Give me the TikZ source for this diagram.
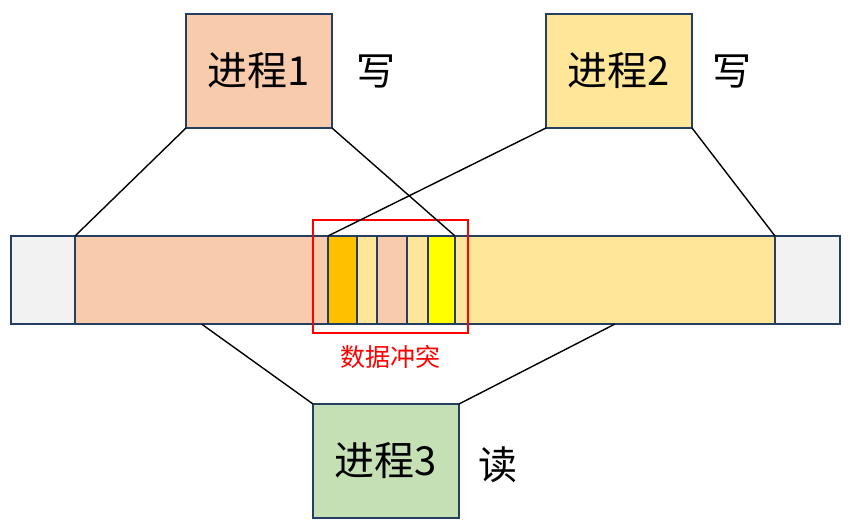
\documentclass[tikz,border=0pt]{standalone}
\usepackage{fontspec}
\setmainfont{Noto Sans CJK SC}
\begin{document}
\begin{tikzpicture}[x=1pt,y=-1pt,
  seg/.style={draw=edgeblue, line width=1.4pt, inner sep=0pt, outer sep=0pt, minimum height=88pt},
  proc/.style={draw=edgeblue, line width=1.2pt, inner sep=0pt, outer sep=0pt, minimum width=146pt, minimum height=114pt, font=\fontsize{40}{44}\selectfont},
  lbl/.style={font=\fontsize{39}{42}\selectfont, inner sep=0pt},
  conn/.style={draw=black, line width=1.4pt}]
\definecolor{edgeblue}{HTML}{243F60}
\definecolor{peach}{HTML}{F8CBAD}
\definecolor{lyel}{HTML}{FFE699}
\definecolor{lgray}{HTML}{F2F2F2}
\definecolor{orng}{HTML}{FFC000}
\definecolor{yel}{HTML}{FFFF00}
\definecolor{lgreen}{HTML}{C5E0B4}
\useasboundingbox (0,0) rectangle (850,529);
\fill[white] (0,0) rectangle (850,529);
% bar segments
\node[seg, fill=lgray, minimum width=64pt] (gl) at (43,280) {};
\node[seg, fill=lgray, minimum width=65pt] (gr) at (807.5,280) {};
\node[seg, fill=peach, minimum width=253pt] (pl) at (201.5,280) {};
\node[seg, fill=lyel, minimum width=320pt] (yr) at (615,280) {};
\node[seg, fill=orng, minimum width=29pt] (o1) at (342.5,280) {};
\node[seg, fill=lyel, minimum width=20pt] (y1) at (367,280) {};
\node[seg, fill=peach, minimum width=30pt] (p1) at (392,280) {};
\node[seg, fill=lyel, minimum width=21pt] (y2) at (417.5,280) {};
\node[seg, fill=yel, minimum width=27pt] (y3) at (441.5,280) {};
% conflict frame
\node[draw=red, line width=1.2pt, inner sep=0pt, minimum width=155pt, minimum height=113pt] (cf) at (390.5,276.5) {};
\node[text=red, font=\fontsize{25}{28}\selectfont, inner sep=0pt] (cl) at (390,357) {数据冲突};
% processes
\node[proc, fill=peach] (P1) at (259,71) {进程1};
\node[proc, fill=lyel] (P2) at (619,71) {进程2};
\node[proc, fill=lgreen] (P3) at (386,461) {进程3};
\node[lbl] (w1) at (376,72) {写};
\node[lbl] (w2) at (732,72) {写};
\node[lbl] (r3) at (498,465) {读};
% connectors
\draw[conn] (P1.south west) -- (pl.north west);
\draw[conn] (P1.south east) -- (y3.north east);
\draw[conn] (P2.south west) -- (o1.north west);
\draw[conn] (P2.south east) -- (yr.north east);
\draw[conn] (P3.north west) -- (pl.south);
\draw[conn] (P3.north east) -- (yr.south);
\end{tikzpicture}
\end{document}
